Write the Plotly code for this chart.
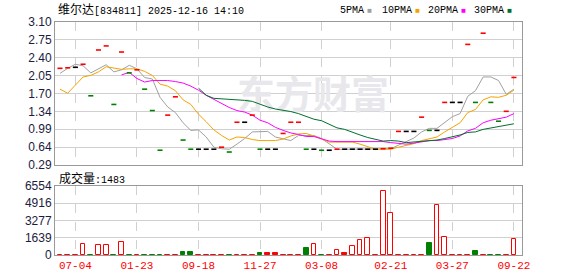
import plotly.graph_objects as go

# ---------------- data ----------------
tick_idx = [2, 10, 18, 26, 34, 43, 51, 59]
tick_labels = ["07-04", "01-23", "09-18", "11-27", "03-08", "02-21", "03-27", "09-22"]

price = [2.19, 2.20, 2.21, 2.27, 1.65, 2.55, 2.63, 1.48, 2.51, 2.10,
         2.16, 1.78, 1.36, 0.58, 1.27, 1.63, 0.78, 0.60, 0.60, 0.60,
         0.60, 0.64, 0.545, 1.13, 1.13, 1.27, 0.60, 0.60, 0.60, 0.91,
         1.13, 1.13, 0.60, 0.60, 0.58, 0.58, 0.60, 0.60, 0.60, 0.60,
         0.60, 0.60, 0.61, 0.62, 0.95, 0.95, 0.95, 1.23, 0.97, 0.97,
         1.52, 1.52, 1.52, 2.66, 1.52, 2.88, 1.52, 1.15, 1.345, 2.01]
# r = up (red), g = down (green), k = flat (black)
price_dir = list("rrkrgrrgrg" "rgggrrggkk" "krgrkrgkkr" "rrgkgkrkkk" "kkrrrkkrgk" "rkkrgrggrr")

volume = [6, 6, 6, 1045, 6, 950, 950, 6, 1235, 6,
          6, 6, 6, 6, 6, 6, 285, 285, 6, 6,
          6, 6, 6, 6, 6, 6, 190, 190, 190, 6,
          6, 6, 665, 1013, 6, 6, 443, 190, 823, 1425,
          1583, 6, 6047, 3989, 6, 6, 6, 6, 1140, 4718,
          1678, 6, 6, 6, 380, 6, 6, 6, 6, 1483]
# h = hollow red, f = filled red, g = filled green
vol_style = list("fffhghhghg" "fgggffggff" "ffgfffgfff" "ffghgfhfhh" "hfhhffffgh" "hfffgfggfh")

ma5 = [2.09, 2.19, 2.27, 2.24, 2.10, 2.18, 2.26, 2.12, 2.16, 2.25,
       2.18, 2.01, 1.98, 1.62, 1.43, 1.32, 1.12, 0.97, 0.98, 0.84,
       0.64, 0.61, 0.60, 0.70, 0.81, 0.94, 0.94, 0.95, 0.84, 0.80,
       0.77, 0.87, 0.87, 0.87, 0.81, 0.70, 0.60, 0.60, 0.60, 0.60,
       0.60, 0.60, 0.60, 0.61, 0.68, 0.75, 0.82, 0.94, 1.01, 1.01,
       1.13, 1.24, 1.30, 1.64, 1.75, 2.02, 2.02, 1.95, 1.68, 1.78]
ma10 = [1.78, 1.70, 1.86, 2.02, 2.05, 2.12, 2.22, 2.20, 2.17, 2.18,
        2.18, 2.13, 2.05, 1.88, 1.84, 1.75, 1.57, 1.48, 1.29, 1.14,
        0.98, 0.87, 0.78, 0.84, 0.83, 0.79, 0.77, 0.77, 0.77, 0.80,
        0.86, 0.90, 0.91, 0.86, 0.80, 0.74, 0.74, 0.74, 0.74, 0.70,
        0.65, 0.60, 0.60, 0.60, 0.64, 0.67, 0.71, 0.77, 0.81, 0.84,
        0.94, 1.03, 1.12, 1.32, 1.38, 1.57, 1.63, 1.62, 1.66, 1.76]
ma20 = [None] * 8 + [
        2.06, 2.11,
        1.99, 1.92, 1.95, 1.95, 1.95, 1.93, 1.90, 1.84, 1.76, 1.66,
        1.58, 1.50, 1.42, 1.36, 1.33, 1.27, 1.17, 1.12, 1.03, 0.97,
        0.92, 0.89, 0.85, 0.85, 0.81, 0.76, 0.75, 0.75, 0.75, 0.75,
        0.75, 0.75, 0.75, 0.73, 0.72, 0.70, 0.72, 0.75, 0.77, 0.77,
        0.79, 0.81, 0.86, 0.96, 1.01, 1.12, 1.17, 1.20, 1.23, 1.30]
ma30 = [None] * 18 + [
        1.80, 1.66,
        1.60, 1.59, 1.59, 1.58, 1.56, 1.54, 1.48, 1.43, 1.39, 1.37,
        1.34, 1.30, 1.25, 1.19, 1.16, 1.09, 1.02, 0.99, 0.93, 0.88,
        0.83, 0.79, 0.76, 0.77, 0.76, 0.73, 0.74, 0.76, 0.77, 0.78,
        0.81, 0.84, 0.88, 0.93, 0.94, 0.99, 1.02, 1.04, 1.07, 1.10]

price_ticks = ["0.29", "0.64", "0.99", "1.34", "1.70", "2.05", "2.40", "2.75", "3.10"]
vol_ticks = ["0", "1639", "3277", "4916", "6554"]

title_name = "维尔达"
title_code = "[834811] 2025-12-16 14:10"
vol_label = "成交量"
vol_shown = 1483

# ---------------- styling ----------------
W, H = 578, 276
L, R, T, B = 55, 56, 22, 21
PW, PH = W - L - R, H - T - B
RED, GREEN, BLACK = "#ff0000", "#008000", "#000000"
C_MA5, C_MA10, C_MA20, C_MA30 = "#a0a0a0", "#f5a300", "#ff00ff", "#00702a"

def px_x(p):
    return (p - L) / PW

def px_y(p):
    return (H - B - p) / PH

n = len(price)
xs = list(range(n))
pmin, pmax = float(price_ticks[0]), float(price_ticks[-1])
pstep = (pmax - pmin) / (len(price_ticks) - 1)
ptickvals = [pmin + i * pstep for i in range(len(price_ticks))]
vmax = float(vol_ticks[-1])
vtickvals = [vmax * i / (len(vol_ticks) - 1) for i in range(len(vol_ticks))]

fig = go.Figure()

# watermark (drawn first so it sits beneath the lines)
fig.add_trace(go.Scatter(
    x=[32.9], y=[1.60], mode="text", text=["东方财富"],
    textfont=dict(family="Noto Sans CJK SC", size=38, color="#e8e8ec", weight="bold"),
    hoverinfo="skip", showlegend=False, xaxis="x", yaxis="y"))

for name, vals, col in [("5PMA", ma5, C_MA5), ("10PMA", ma10, C_MA10),
                        ("20PMA", ma20, C_MA20), ("30PMA", ma30, C_MA30)]:
    fig.add_trace(go.Scatter(x=xs, y=vals, mode="lines", name=name,
                             line=dict(color=col, width=1),
                             showlegend=False, xaxis="x", yaxis="y"))

for key, col in [("r", RED), ("g", GREEN), ("k", BLACK)]:
    sel = [i for i in xs if price_dir[i] == key]
    fig.add_trace(go.Scatter(
        x=sel, y=[price[i] for i in sel], mode="markers",
        marker=dict(symbol="line-ew", size=3.6, line=dict(color=col, width=1.6)),
        showlegend=False, xaxis="x", yaxis="y"))

for key, fill, edge in [("h", "#ffffff", RED), ("f", RED, RED), ("g", GREEN, GREEN)]:
    sel = [i for i in xs if vol_style[i] == key]
    fig.add_trace(go.Bar(
        x=sel, y=[volume[i] for i in sel], width=0.62,
        marker=dict(color=fill, line=dict(color=edge, width=1)),
        showlegend=False, xaxis="x2", yaxis="y2"))

axis_common = dict(showline=True, linecolor="#999999", linewidth=1, mirror=True,
                   zeroline=False, ticks="", automargin=False)
fig.update_layout(
    width=W, height=H,
    margin=dict(l=L, r=R, t=T, b=B, pad=0, autoexpand=False),
    paper_bgcolor="white", plot_bgcolor="white",
    bargap=0, showlegend=False,
    xaxis=dict(domain=[0, 1], range=[-0.65, n + 0.05], anchor="y",
               tickvals=tick_idx, showticklabels=False,
               showgrid=True, gridcolor="#d0d0d0", griddash="dash", gridwidth=1,
               **axis_common),
    yaxis=dict(domain=[px_y(165), 1], range=[pmin, pmax], anchor="x",
               tickvals=ptickvals, ticktext=price_ticks,
               showgrid=True, gridcolor="#d0d0d0", gridwidth=1,
               tickfont=dict(family="Liberation Sans", size=12, color="#1c1c40"),
               **axis_common),
    xaxis2=dict(domain=[0, 1], range=[-0.65, n + 0.05], anchor="y2", matches="x",
                tickvals=tick_idx, ticktext=tick_labels,
                tickfont=dict(family="Liberation Mono", size=11, color=RED),
                showgrid=True, gridcolor="#d0d0d0", griddash="dash", gridwidth=1,
                **axis_common),
    yaxis2=dict(domain=[0, px_y(186)], range=[0, vmax], anchor="x2",
                tickvals=vtickvals, ticktext=vol_ticks,
                showgrid=True, gridcolor="#d0d0d0", gridwidth=1,
                tickfont=dict(family="Liberation Sans", size=12, color="#1c1c40"),
                **axis_common),
)

cjk = "font-family:'Noto Sans CJK SC';font-size:12px"
mono = "font-family:'Liberation Mono';font-size:10px"
annos = [
    dict(x=px_x(56), y=px_y(9),
         text=f"<span style=\"{cjk}\">{title_name}</span><span style=\"{mono}\">{title_code}</span>"),
    dict(x=px_x(57), y=px_y(177),
         text=f"<span style=\"{cjk}\">{vol_label}</span><span style=\"{mono}\">:{vol_shown}</span>"),
]
leg = [("5PMA", C_MA5, 338), ("10PMA", C_MA10, 380), ("20PMA", C_MA20, 426), ("30PMA", C_MA30, 472)]
for name, col, xpx in leg:
    annos.append(dict(x=px_x(xpx), y=px_y(9),
                      text=f"<span style=\"{mono}\">{name}</span> <span style=\"color:{col};font-size:8px\">■</span>"))
for a in annos:
    fig.add_annotation(xref="paper", yref="paper", xanchor="left", yanchor="middle",
                       showarrow=False, font=dict(color="#000000", size=12), **a)

fig.write_html("out.html")
